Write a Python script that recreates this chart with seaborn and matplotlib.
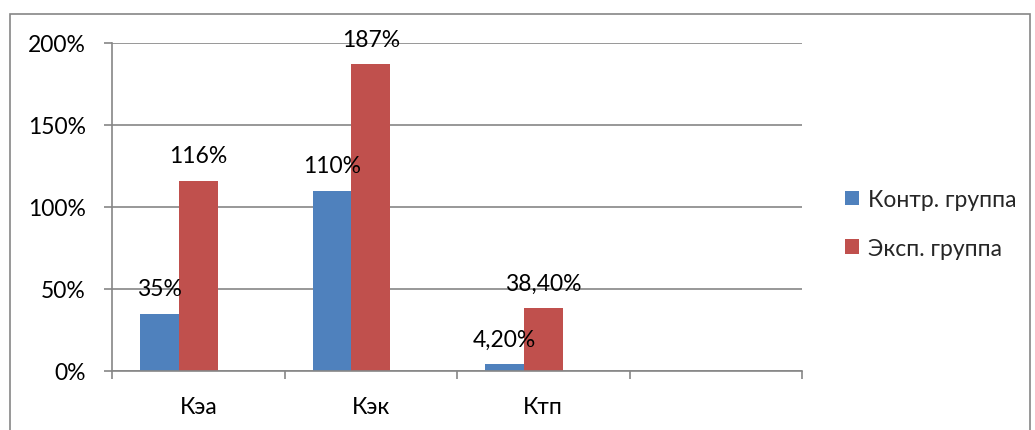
import matplotlib
matplotlib.use("Agg")
import matplotlib.pyplot as plt
import seaborn as sns
import pandas as pd
from matplotlib.patches import Patch, Rectangle
from matplotlib.ticker import FixedLocator, FuncFormatter

categories = ["Кэа", "Кэк", "Ктп"]
slots = ["Кэа", "Кэк", "Ктп", " "]
series_names = ["Контр. группа", "Эксп. группа"]
control = [35, 110, 4.2]
experimental = [116, 187, 38.4]
control_labels = ["35%", "110%", "4,20%"]
experimental_labels = ["116%", "187%", "38,40%"]
y_ticks = [0, 50, 100, 150, 200]

BLUE = "#4F81BD"
RED = "#C0504D"
GRAY = "#868686"

sns.set_theme(style="white")
plt.rcParams["font.family"] = ["Lato", "DejaVu Sans"]

rows = []
for c, v in zip(categories, control):
    rows.append({"cat": c, "grp": series_names[0], "val": v})
for c, v in zip(categories, experimental):
    rows.append({"cat": c, "grp": series_names[1], "val": v})
df = pd.DataFrame(rows)

fig = plt.figure(figsize=(10.35, 4.31), dpi=100)
ax = fig.add_axes([112 / 1035, 59 / 431, 690 / 1035, 328 / 431])

hue_order = series_names + ["_empty"]
sns.barplot(data=df, x="cat", y="val", hue="grp", order=slots, hue_order=hue_order,
            palette={series_names[0]: BLUE, series_names[1]: RED, "_empty": "white"},
            width=0.67, gap=0, dodge=True, ax=ax, legend=False, saturation=1,
            linewidth=0, errorbar=None)

ax.set_xlim(-0.5, 3.5)
ax.set_ylim(0, 200)
ax.set_xlabel("")
ax.set_ylabel("")

fs = 16.5
# data labels: match bars by colour
def bars_of(color):
    target = matplotlib.colors.to_rgba(color)
    out = [p for p in ax.patches
           if isinstance(p, matplotlib.patches.Rectangle)
           and all(abs(a - b) < 0.01 for a, b in zip(p.get_facecolor(), target))
           and p.get_height() > 0]
    return sorted(out, key=lambda p: p.get_x())

for color, lbls in [(BLUE, control_labels), (RED, experimental_labels)]:
    for b, t in zip(bars_of(color), lbls):
        ax.annotate(t, (b.get_x() + b.get_width() / 2, b.get_height()),
                    xytext=(0, 18), textcoords="offset points",
                    ha="center", va="center", fontsize=fs, color="black")

# grid & spines
ax.yaxis.set_major_locator(FixedLocator(y_ticks))
ax.yaxis.set_major_formatter(FuncFormatter(lambda v, p: f"{int(v)}%"))
ax.grid(axis="y", color=GRAY, linewidth=1.2)
ax.set_axisbelow(True)
for s in ["top", "right"]:
    ax.spines[s].set_visible(False)
for s in ["left", "bottom"]:
    ax.spines[s].set_color(GRAY)
    ax.spines[s].set_linewidth(1.2)

ax.tick_params(axis="y", which="major", length=6, width=1.2, color=GRAY,
               pad=13, labelsize=fs, labelcolor="black", direction="out", left=True)
ax.set_xticks(range(len(slots)))
ax.set_xticklabels(slots)
ax.set_xticks([-0.5, 0.5, 1.5, 2.5, 3.5], minor=True)
ax.tick_params(axis="x", which="major", length=0, pad=18, labelsize=fs, labelcolor="black")
ax.tick_params(axis="x", which="minor", length=6, width=1.2, color=GRAY,
               direction="out", bottom=True)

handles = [Patch(facecolor=BLUE, edgecolor="none"), Patch(facecolor=RED, edgecolor="none")]
fig.legend(handles, series_names, loc="center left", bbox_to_anchor=(845 / 1035, 0.478),
           frameon=False, borderpad=0, borderaxespad=0, fontsize=fs,
           handlelength=0.6, handleheight=0.6, handletextpad=0.4, labelspacing=1.2)

fig.patches.append(Rectangle((9.5 / 1035, -0.05), (1030 - 9.5) / 1035, (431 - 14.5) / 431 + 0.05,
                             transform=fig.transFigure, fill=False, edgecolor=GRAY,
                             linewidth=1.2, figure=fig))

fig.savefig("out.png", dpi=100)
